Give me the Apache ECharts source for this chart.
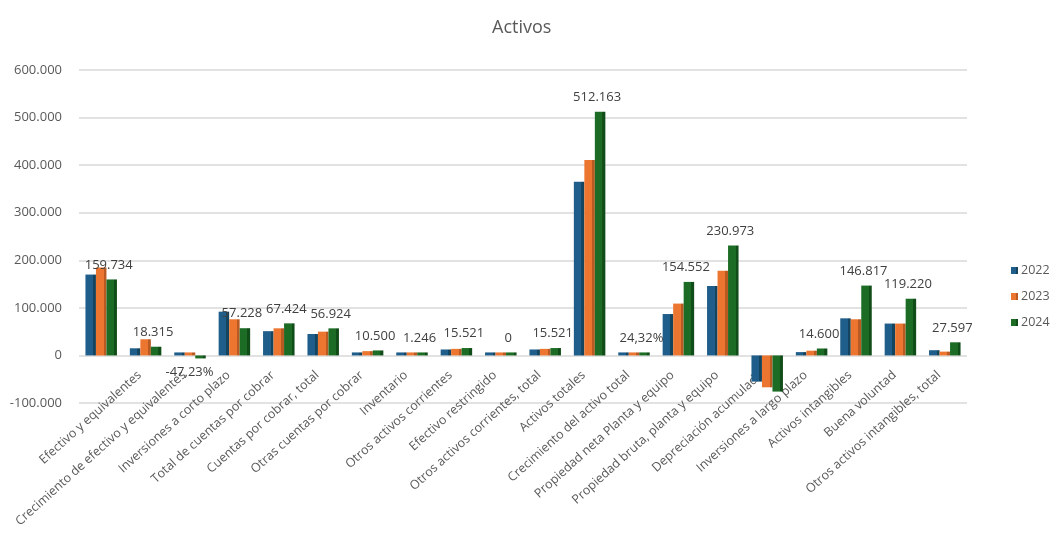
<!DOCTYPE html>
<html>
<head>
<meta charset="utf-8">
<script src="https://cdn.jsdelivr.net/npm/echarts@6/dist/echarts.min.js"></script>
<style>
html,body{margin:0;padding:0;background:#fff;}
#chart{width:1052px;height:534px;}
</style>
</head>
<body>
<div id="chart"></div>
<script>
const categories = [
  '',
  'Efectivo y equivalentes',
  'Crecimiento de efectivo y equivalentes',
  'Inversiones a corto plazo',
  'Total de cuentas por cobrar',
  'Cuentas por cobrar, total',
  'Otras cuentas por cobrar',
  'Inventario',
  'Otros activos corrientes',
  'Efectivo restringido',
  'Otros activos corrientes, total',
  'Activos totales',
  'Crecimiento del activo total',
  'Propiedad neta Planta y equipo',
  'Propiedad bruta, planta y equipo',
  'Depreciación acumulada',
  'Inversiones a largo plazo',
  'Activos intangibles',
  'Buena voluntad',
  'Otros activos intangibles, total'
];
const seriesNames = ['2022', '2023', '2024'];
const values2022 = [170000, 15000, 0.35, 92000, 51000, 45000, 5500, 2000, 12500, 0, 12500, 365000, 0.2, 87000, 146000, -55000, 7000, 78000, 67000, 11000];
const values2023 = [185000, 34000, 0.3, 76000, 57000, 50000, 9000, 1600, 13800, 0, 13800, 411000, 0.18, 109000, 178000, -67000, 10000, 76000, 67000, 8000];
const values2024 = [159734, 18315, -0.4723, 57228, 67424, 56924, 10500, 1246, 15521, 0, 15521, 512163, 0.2432, 154552, 230973, -76000, 14600, 146817, 119220, 27597];
const yTicks = { min: -100000, max: 600000, interval: 100000 };

function fmtThousands(v) {
  const neg = v < 0;
  let s = Math.round(Math.abs(v)).toString();
  s = s.replace(/\B(?=(\d{3})+(?!\d))/g, '.');
  return (neg ? '-' : '') + s;
}
function fmtValue(v) {
  if (v !== 0 && Math.abs(v) < 1) {
    return (v * 100).toFixed(2).replace('.', ',') + '%';
  }
  return fmtThousands(v);
}

const colors = ['#1f5d8a', '#ec7630', '#1c6c25'];
const darks = ['#15445f', '#b85a22', '#114d18'];
function grad(i) {
  return new echarts.graphic.LinearGradient(0, 0, 1, 0, [
    { offset: 0, color: colors[i] },
    { offset: 0.72, color: colors[i] },
    { offset: 0.73, color: darks[i] },
    { offset: 1, color: darks[i] }
  ]);
}

const allValues = [values2022, values2023, values2024];

const series = seriesNames.map((name, i) => {
  const data = allValues[i].map((v, j) => {
    if (i !== 2) return v;
    if (v < 0 && Math.abs(v) < 1) {
      return { value: v, label: { show: true, position: 'bottom', distance: 7, offset: [-11, 0] } };
    }
    if (v < 0) {
      return { value: v, label: { show: false } };
    }
    return v;
  });
  return {
    name: name,
    type: 'bar',
    barWidth: 10.5,
    barGap: '0%',
    barMinHeight: 3,
    itemStyle: { color: grad(i) },
    data: data,
    label: i === 2 ? {
      show: true,
      position: 'top',
      distance: 8,
      offset: [-3, 0],
      fontFamily: 'Open Sans',
      fontSize: 13,
      color: '#404040',
      formatter: p => fmtValue(p.value)
    } : { show: false }
  };
});

const chart = echarts.init(document.getElementById('chart'), null, { renderer: 'canvas' });
chart.setOption({
  animation: false,
  color: colors,
  title: {
    text: 'Activos',
    left: 487,
    top: 14,
    textStyle: { fontFamily: 'Open Sans', fontSize: 18, fontWeight: 'normal', color: '#595959' }
  },
  legend: {
    orient: 'vertical',
    left: 1006,
    top: 259,
    itemWidth: 7,
    itemHeight: 7,
    itemGap: 13,
    icon: 'rect',
    textStyle: { fontFamily: 'Open Sans', fontSize: 12.5, color: '#595959', padding: [0, 0, 0, -2] },
    data: seriesNames
  },
  grid: { left: 79, top: 70, width: 888, height: 333, outerBoundsMode: 'none' },
  xAxis: {
    type: 'category',
    data: categories,
    axisLine: { show: false },
    axisTick: { show: false },
    axisLabel: {
      interval: 0,
      rotate: 42,
      margin: -35,
      padding: [0, 8, 0, 0],
      fontFamily: 'Open Sans',
      fontSize: 12.5,
      color: '#595959'
    }
  },
  yAxis: {
    type: 'value',
    min: yTicks.min,
    max: yTicks.max,
    interval: yTicks.interval,
    axisLine: { show: false },
    axisTick: { show: false },
    splitLine: { lineStyle: { color: '#d9d9d9', width: 1.5 } },
    axisLabel: {
      margin: 17,
      fontFamily: 'Open Sans',
      fontSize: 13,
      color: '#595959',
      formatter: v => fmtThousands(v)
    }
  },
  series: series
});
</script>
</body>
</html>
